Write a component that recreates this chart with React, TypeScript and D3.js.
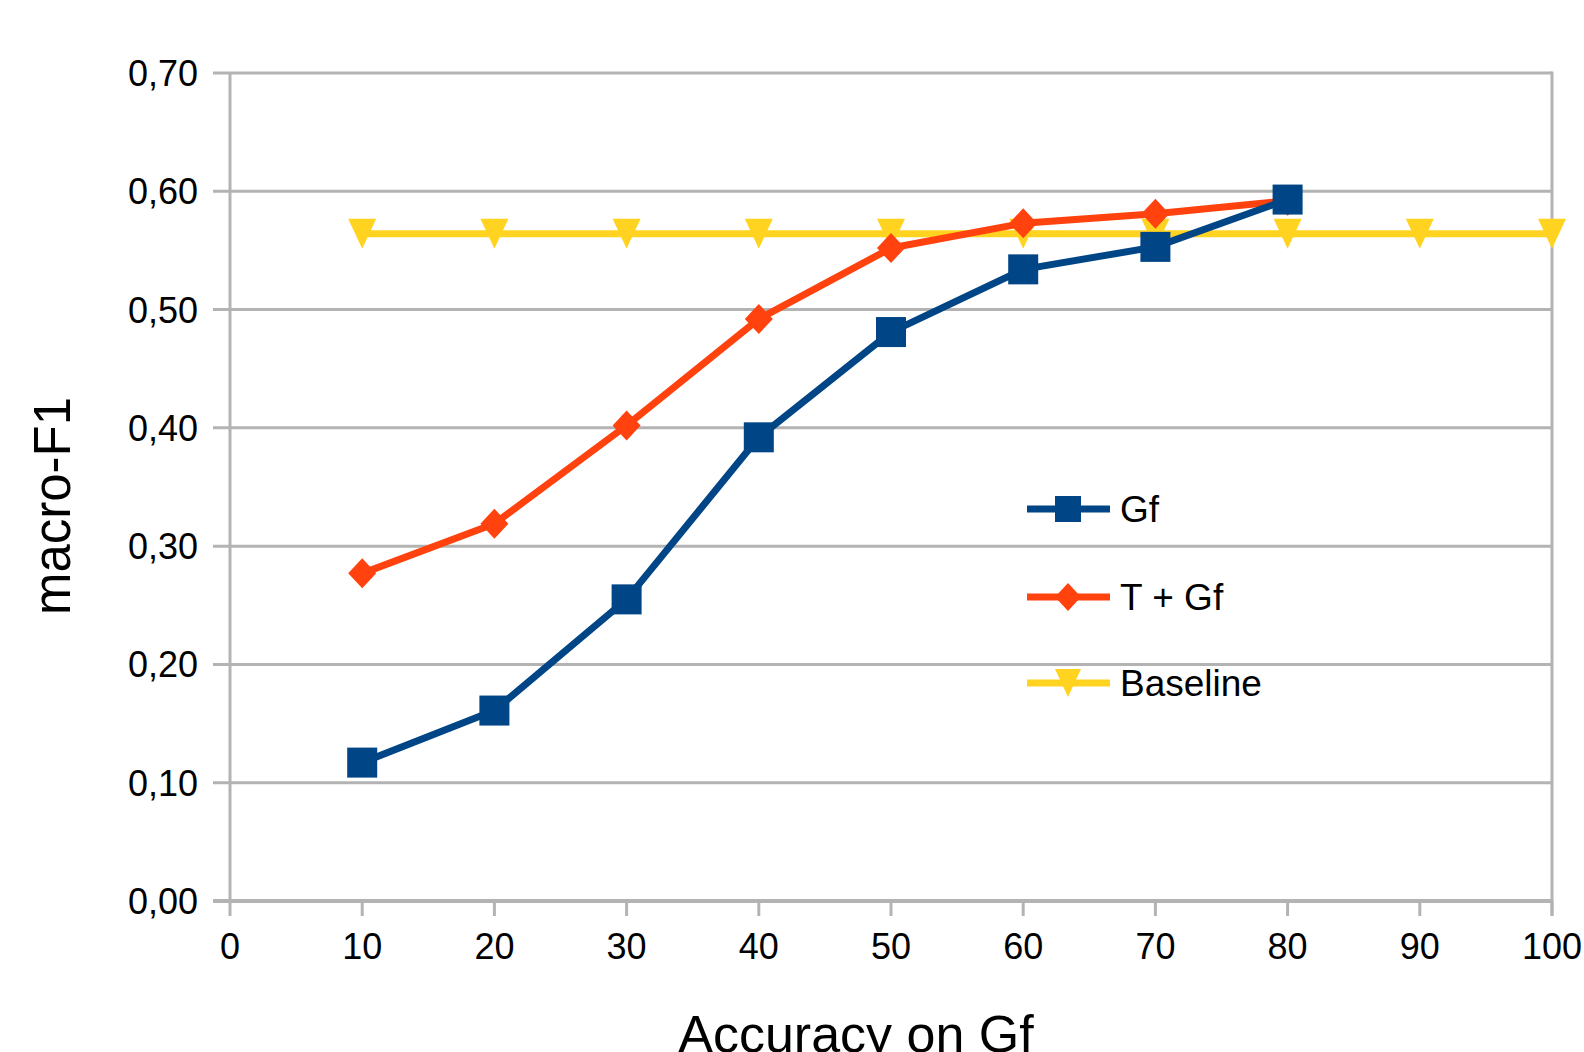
import React from "react";
import * as d3 from "d3";

const xCats = [10, 20, 30, 40, 50, 60, 70, 80];
const gfValues = [0.117, 0.161, 0.255, 0.392, 0.481, 0.534, 0.553, 0.593];
const tgfValues = [0.277, 0.319, 0.402, 0.492, 0.552, 0.573, 0.581, 0.592];
const baselineX = [10, 20, 30, 40, 50, 60, 70, 80, 90, 100];
const baselineValues = [0.564, 0.564, 0.564, 0.564, 0.564, 0.564, 0.564, 0.564, 0.564, 0.564];
const xTicks = [0, 10, 20, 30, 40, 50, 60, 70, 80, 90, 100];
const yTicks = [0, 0.1, 0.2, 0.3, 0.4, 0.5, 0.6, 0.7];
const seriesNames = ["Gf", "T + Gf", "Baseline"];
const colors = ["#004586", "#ff420e", "#ffd320"];

const W = 1584;
const H = 1052;
const left = 230, right = 1552, top = 73, bottom = 901;
const grid = "#b3b3b3";
const font = "'Liberation Sans', Arial, sans-serif";

function Marker({ kind, x, y, color, s }: { kind: number; x: number; y: number; color: string; s: number }) {
  if (kind === 0) {
    return <rect x={x - s / 2} y={y - s / 2} width={s} height={s} fill={color} />;
  }
  if (kind === 1) {
    const h = s / 2;
    return <path d={`M${x},${y - h - 1}L${x + h},${y}L${x},${y + h + 1}L${x - h},${y}Z`} fill={color} />;
  }
  const h = s / 2;
  return <path d={`M${x - h},${y - h - 1}L${x + h},${y - h - 1}L${x},${y + h + 1}Z`} fill={color} />;
}

export default function App() {
  const x = d3.scaleLinear().domain([0, 100]).range([left, right]);
  const y = d3.scaleLinear().domain([0, 0.7]).range([bottom, top]);
  const fmt = (v: number) => v.toFixed(2).replace(".", ",");
  const line = d3.line<[number, number]>().x((d) => x(d[0])).y((d) => y(d[1]));

  const series = [
    { xs: baselineX, ys: baselineValues, kind: 2, color: colors[2] },
    { xs: xCats, ys: tgfValues, kind: 1, color: colors[1] },
    { xs: xCats, ys: gfValues, kind: 0, color: colors[0] },
  ];

  const legendRows = [509, 597, 683];

  return (
    <svg width={W} height={H} style={{ position: "absolute", left: 0, top: 0, background: "#fff" }} fontFamily={font}>
      {yTicks.map((t) => (
        <line key={"g" + t} x1={left - 17} x2={right} y1={y(t)} y2={y(t)} stroke={grid} strokeWidth={3} />
      ))}
      <line x1={left} x2={left} y1={top} y2={bottom} stroke={grid} strokeWidth={3} />
      <line x1={right} x2={right} y1={top - 1.5} y2={bottom + 15} stroke={grid} strokeWidth={3} />
      {xTicks.map((t) => (
        <line key={"xt" + t} x1={x(t)} x2={x(t)} y1={bottom} y2={bottom + 15} stroke={grid} strokeWidth={3} />
      ))}
      <line x1={left - 17} x2={right} y1={bottom} y2={bottom} stroke={grid} strokeWidth={4} />
      {yTicks.map((t) => (
        <text key={"yl" + t} x={198} y={y(t) + 13} textAnchor="end" fontSize={36} fill="#000">
          {fmt(t)}
        </text>
      ))}
      {xTicks.map((t) => (
        <text key={"xl" + t} x={x(t)} y={959} textAnchor="middle" fontSize={36} fill="#000">
          {t}
        </text>
      ))}
      {series.map((s, i) => {
        const pts = s.xs.map((v, j) => [v, s.ys[j]] as [number, number]);
        return (
          <g key={"s" + i}>
            <path d={line(pts) || ""} fill="none" stroke={s.color} strokeWidth={7} strokeLinejoin="round" />
            {pts.map((p, j) => (
              <Marker key={j} kind={s.kind} x={x(p[0])} y={y(p[1])} color={s.color} s={s.kind === 0 ? 30 : 28} />
            ))}
          </g>
        );
      })}
      {seriesNames.map((n, i) => (
        <g key={"lg" + i}>
          <line x1={1027} x2={1110} y1={legendRows[i]} y2={legendRows[i]} stroke={colors[i]} strokeWidth={7} />
          <Marker kind={i} x={1068} y={legendRows[i]} color={colors[i]} s={26} />
          <text x={1120} y={legendRows[i] + 13} fontSize={37} fill="#000">
            {n}
          </text>
        </g>
      ))}
      <text x={856} y={1052} textAnchor="middle" fontSize={52} fill="#000">
        Accuracy on Gf
      </text>
      <text transform={`translate(70,506) rotate(-90)`} textAnchor="middle" fontSize={51} fill="#000">
        macro-F1
      </text>
    </svg>
  );
}
